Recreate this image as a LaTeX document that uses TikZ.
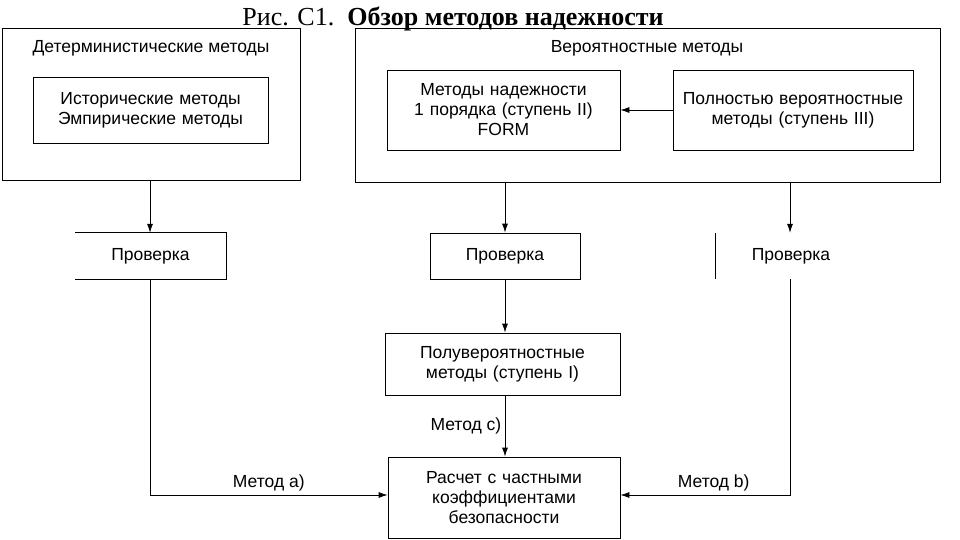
\documentclass[tikz,border=0pt]{standalone}
\usepackage{fontspec}
\setmainfont{Liberation Sans}
\newfontfamily\serif{Liberation Serif}
\usetikzlibrary{positioning,calc,arrows.meta}
\tikzset{
    box/.style={rectangle, draw=black, thick, text centered, inner sep=0pt},
    flow/.style={-{Latex[length=9pt,width=6pt]}, thick}
}
\begin{document}
\begin{tikzpicture}[x=1pt, y=-1pt, font=\fontsize{17.5}{20}\selectfont]
    \useasboundingbox (0,0) rectangle (960,540);
    % Title
    \node (title) at (453,19) {\serif\fontsize{26}{28}\selectfont Рис. С1.\ \ \textbf{Обзор методов надежности}};

    % Deterministic methods
    \draw [thick] (2,28) rectangle (300,180);
    \node (det) at (151,48) {Детерминистические методы};
    \node [box, minimum width=235pt, minimum height=66pt, text width=230pt] (hist) at (150.5,110) {Исторические методы\\Эмпирические методы};

    % Probabilistic methods
    \draw [thick] (355,28) rectangle (940,182);
    \node (prob) at (647,48) {Вероятностные методы};
    \node [box, minimum width=233pt, minimum height=80pt, text width=228pt] (form) at (503.5,110) {Методы надежности\\1 порядка (ступень II)\\FORM};
    \node [box, minimum width=240pt, minimum height=80pt, text width=235pt] (full) at (793,110) {Полностью вероятностные\\методы (ступень III)};
    \draw [flow] (full) -- (form);

    % Checks
    \node [minimum width=151pt, minimum height=46pt] (chk1) at (150.5,256) {Проверка};
    \draw [thick] (chk1.north west) -- (chk1.north east) -- (chk1.south east) -- (chk1.south west);
    \node [box, minimum width=150pt, minimum height=46pt] (chk2) at (505,256) {Проверка};
    \node [minimum width=150pt, minimum height=46pt] (chk3) at (791,256) {Проверка};
    \draw [thick] (chk3.north west) -- (chk3.south west);

    \coordinate (d1) at (150,180);
    \coordinate (d2) at (505,182);
    \coordinate (d3) at (790,182);
    \draw [flow] (d1) -- (d1 |- chk1.north);
    \draw [flow] (d2) -- (chk2.north);
    \draw [flow] (d3) -- (d3 |- chk3.north);

    % Semi-probabilistic and final
    \node [box, minimum width=235pt, minimum height=62pt, text width=230pt] (semi) at (502.5,364) {Полувероятностные\\методы (ступень I)};
    \node [box, minimum width=232pt, minimum height=81pt, text width=228pt] (calc) at (504,497.5) {Расчет с частными\\коэффициентами\\безопасности};
    \draw [flow] (chk2.south) -- (chk2.south |- semi.north);
    \draw [flow] (semi.south -| chk2.south) -- (chk2.south |- calc.north) node [midway, left] {Метод с)};

    \coordinate (c1) at (150,495);
    \coordinate (c3) at (790,495);
    \draw [flow] (d1 |- chk1.south) -- (c1) -- (calc.west |- c1) node [pos=0.5, above] {Метод а)};
    \draw [flow] (d3 |- chk3.south) -- (c3) -- (calc.east |- c3) node [pos=0.45, above] {Метод b)};
\end{tikzpicture}
\end{document}
